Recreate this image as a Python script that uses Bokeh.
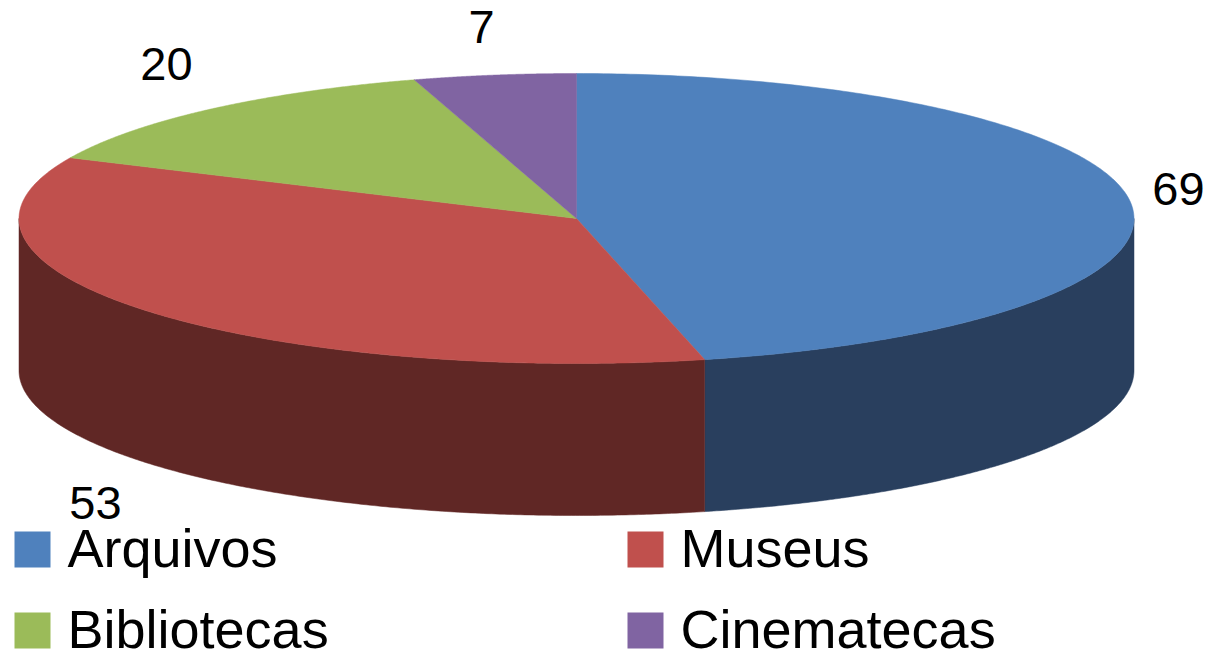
import numpy as np
from bokeh.plotting import figure
from bokeh.models import Range1d
from bokeh.core.properties import value
from bokeh.embed import file_html
from bokeh.resources import INLINE

categories = ["Arquivos", "Museus", "Bibliotecas", "Cinematecas"]
values = [69, 53, 20, 7]
top_colors = ["#4F81BD", "#C0504D", "#9BBB59", "#8064A2"]
side_colors = ["#293F5E", "#602725", "#4D5D2C", "#403151"]

# layout, in page pixels
CX, CY, RX, RY, DEPTH = 576.0, 218.0, 557.5, 145.0, 152.0
FONT = "Liberation Sans"
label_pos = [(1178, 188), (95, 502), (166, 63), (481, 26)]
legend_swatch = [(14, 531), (627, 531), (14, 612), (627, 612)]
SW = 36

W, H = 1207, 651
OFF = 8
p = figure(width=W + OFF, height=H + OFF, x_range=Range1d(-OFF, W), y_range=Range1d(H, -OFF),
           output_backend="svg", toolbar_location=None, min_border=0,
           outline_line_color=None, background_fill_color="white")
p.margin = (-OFF, 0, 0, -OFF)
p.xaxis.visible = False
p.yaxis.visible = False
p.grid.visible = False


def ell(a):
    return CX + RX * np.sin(a), CY - RY * np.cos(a)


edges = np.concatenate([[0], np.cumsum(values)]) / sum(values) * 2 * np.pi

# side walls: only the front half (pi/2..3pi/2 of the ellipse) is visible
for i in range(len(values)):
    a0, a1 = max(edges[i], np.pi / 2), min(edges[i + 1], 3 * np.pi / 2)
    if a1 <= a0:
        continue
    t = np.linspace(a0, a1, 240)
    x, y = ell(t)
    p.patch(np.r_[x, x[::-1]], np.r_[y, (y + DEPTH)[::-1]],
            fill_color=side_colors[i], line_color=side_colors[i], line_width=0.5)

# top faces
for i in range(len(values)):
    t = np.linspace(edges[i], edges[i + 1], 240)
    x, y = ell(t)
    p.patch(np.r_[CX, x], np.r_[CY, y],
            fill_color=top_colors[i], line_color=top_colors[i], line_width=0.5)

# data labels
p.text([q[0] for q in label_pos], [q[1] for q in label_pos], text=[str(v) for v in values],
       text_font=value(FONT), text_font_size="47px", text_color="black",
       text_align="center", text_baseline="middle")

# legend
p.quad(left=[q[0] for q in legend_swatch], right=[q[0] + SW for q in legend_swatch],
       top=[q[1] for q in legend_swatch], bottom=[q[1] + SW for q in legend_swatch],
       fill_color=top_colors, line_color=None)
p.text([q[0] + 53 for q in legend_swatch], [q[1] + 16 for q in legend_swatch], text=categories,
       text_font=value(FONT), text_font_size="54px", text_color="black",
       text_align="left", text_baseline="middle")

open("out.html", "w").write(file_html(p, INLINE))
